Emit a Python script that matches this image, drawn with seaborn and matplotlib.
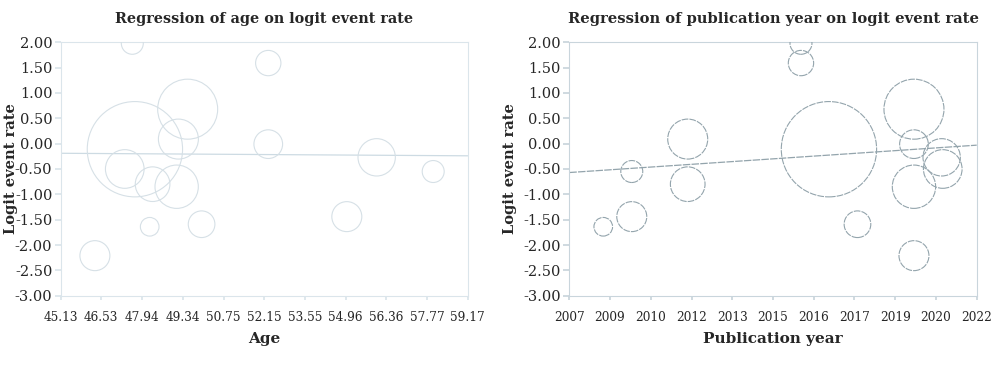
import numpy as np
import pandas as pd
import matplotlib
matplotlib.use("Agg")
import matplotlib.pyplot as plt
import seaborn as sns

# ---- data (15 studies) ----
age = [47.60, 52.29, 49.51, 49.19, 52.29, 47.69, 56.03, 47.34, 57.98, 48.30, 49.13, 55.00, 49.99, 48.20, 46.31]
pub_year = [2015.53, 2015.53, 2019.69, 2011.36, 2019.69, 2016.56, 2020.71, 2020.75, 2009.30, 2011.36, 2019.69, 2009.30, 2017.61, 2008.25, 2019.69]
logit_rate = [1.98, 1.59, 0.68, 0.09, -0.01, -0.11, -0.27, -0.50, -0.55, -0.80, -0.85, -1.44, -1.59, -1.64, -2.21]
weight = [1.89, 2.51, 14.09, 6.26, 3.22, 35.57, 5.46, 5.85, 1.89, 4.70, 7.35, 3.52, 2.78, 1.36, 3.52]

# regression lines (intercept at left axis limit, slope)
age_reg = (-0.19, -0.00356)
year_reg = (-0.57, 0.036)

age_ticks = [45.13, 46.53, 47.94, 49.34, 50.75, 52.15, 53.55, 54.96, 56.36, 57.77, 59.17]
year_tick_labels = ["2007", "2009", "2010", "2012", "2013", "2015", "2016", "2017", "2019", "2020", "2022"]
y_ticks = [2.0, 1.5, 1.0, 0.5, 0.0, -0.5, -1.0, -1.5, -2.0, -2.5, -3.0]

df = pd.DataFrame({"age": age, "year": pub_year, "logit": logit_rate, "weight": weight})

sns.set_theme(style="white")
plt.rcParams["font.family"] = ["DejaVu Serif"]

fig = plt.figure(figsize=(10, 3.67), dpi=100)
ax1 = fig.add_axes([0.0607, 0.1943, 0.407, 0.6905])
ax2 = fig.add_axes([0.5693, 0.1943, 0.4074, 0.6905])

k = 132.4
wmin, wmax = min(weight), max(weight)

def panel(ax, xcol, xlim, xticks, xticklabels, reg, edge, spine_col, line_col, title, tsize, xlabel, ls, ylx):
    sns.scatterplot(data=df, x=xcol, y="logit", size="weight", sizes=(k * wmin, k * wmax),
                    size_norm=(wmin, wmax), facecolor="none", edgecolor=edge, linewidth=0.8,
                    legend=False, ax=ax, zorder=3)
    for c in ax.collections:
        c.set_facecolor("none")
        c.set_edgecolor(edge)
        c.set_linestyle(ls)
    xs = np.array(xlim)
    ax.plot(xs, reg[0] + reg[1] * (xs - xlim[0]), color=line_col, lw=0.9, ls=ls, zorder=2)
    ax.set_xlim(*xlim)
    ax.set_ylim(-3.0, 2.0)
    ax.set_xticks(xticks)
    ax.set_xticklabels(xticklabels, fontsize=8.7)
    ax.set_yticks(y_ticks)
    ax.set_yticklabels([f"{v:.2f}" for v in y_ticks], fontsize=10.5)
    ax.tick_params(axis="x", length=3, color=spine_col, pad=8, direction="out", bottom=True)
    ax.tick_params(axis="y", length=4, color=spine_col, pad=2, direction="out", left=True)
    for s in ax.spines.values():
        s.set_color(spine_col)
        s.set_linewidth(0.8)
    ax.set_title(title, fontsize=tsize, fontweight="bold", pad=14)
    ax.set_xlabel(xlabel, fontsize=11, fontweight="bold", labelpad=6)
    ax.set_ylabel("Logit event rate", fontsize=10.5, fontweight="bold")
    ax.yaxis.set_label_coords(ylx, 0.5)

panel(ax1, "age", (45.13, 59.17), age_ticks, [f"{v:.2f}" for v in age_ticks], age_reg,
      "#d6e0e6", "#dbe5eb", "#cddbe3", "Regression of age on logit event rate", 10.4, "Age", "-", -0.104)
panel(ax2, "year", (2007, 2022), np.linspace(2007, 2022, 11), year_tick_labels, year_reg,
      "#93a4ac", "#c9d5dc", "#93a4ac", "Regression of publication year on logit event rate", 10.6,
      "Publication year", (0, (6, 1)), -0.128)

fig.savefig("out.png", dpi=100)
